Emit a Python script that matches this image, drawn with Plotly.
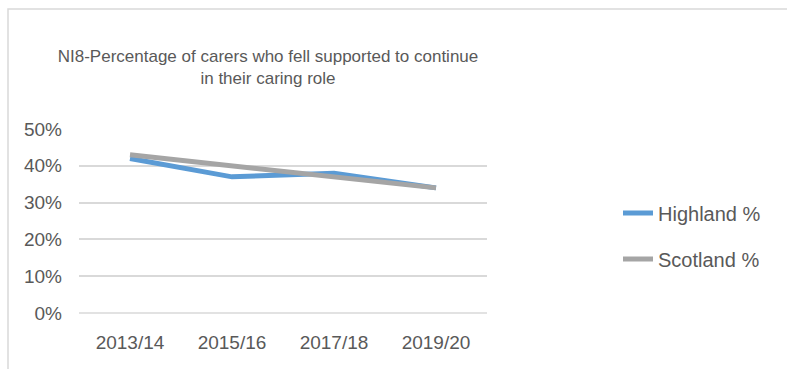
import plotly.graph_objects as go

categories = ["2013/14", "2015/16", "2017/18", "2019/20"]
highland = [0.42, 0.37, 0.38, 0.34]
scotland = [0.43, 0.40, 0.37, 0.34]
title_text = "NI8-Percentage of carers who fell supported to continue<br>in their caring role"

FONT = "Liberation Sans, Arial, sans-serif"
TXT = "#595959"

fig = go.Figure()
fig.add_trace(go.Scatter(x=categories, y=highland, mode="lines", name="Highland %",
                         line=dict(color="#5B9BD5", width=5), legend="legend",
                         showlegend=True))
fig.add_trace(go.Scatter(x=categories, y=scotland, mode="lines", name="Scotland %",
                         line=dict(color="#A5A5A5", width=5), legend="legend2",
                         showlegend=True))

W, H = 787, 369
L, R, T, B = 79, 300, 129, 56
pw, ph = W - L - R, H - T - B

def px_x(p):
    return (p - L) / pw

def px_y(p):
    return (H - B - p) / ph

fig.update_layout(
    width=W, height=H,
    margin=dict(l=L, r=R, t=T, b=B),
    paper_bgcolor="white", plot_bgcolor="white",
    showlegend=True,
    font=dict(family=FONT, size=20, color=TXT),
    title=dict(text=title_text, x=268 / W, xanchor="center", xref="container",
               y=1 - 62 / H, yanchor="middle", yref="container",
               font=dict(family=FONT, size=17, color=TXT)),
    xaxis=dict(type="category", range=[-0.5, 3.5], showgrid=False, zeroline=False,
               showline=False, ticks="", tickfont=dict(size=19, color=TXT),
               ticklabelstandoff=16),
    yaxis=dict(range=[0, 0.5], dtick=0.1, tickformat=".0%", showgrid=True,
               gridcolor="#D9D9D9", gridwidth=1.5, zeroline=False, showline=False,
               ticks="", tickfont=dict(size=19, color=TXT), ticklabelstandoff=16),
    legend=dict(x=px_x(618), y=px_y(213), xanchor="left", yanchor="middle",
                bgcolor="rgba(0,0,0,0)", font=dict(size=20, color=TXT)),
    legend2=dict(x=px_x(618), y=px_y(259), xanchor="left", yanchor="middle",
                 bgcolor="rgba(0,0,0,0)", font=dict(size=20, color=TXT)),
    shapes=[dict(type="rect", xref="paper", yref="paper",
                 x0=px_x(8), x1=px_x(800), y0=px_y(380), y1=px_y(9),
                 line=dict(color="#D9D9D9", width=1.5), fillcolor="rgba(0,0,0,0)",
                 layer="below")],
)
fig.add_shape(type="line", xref="paper", yref="paper", x0=0, x1=1, y0=0, y1=0,
              line=dict(color="#D9D9D9", width=1.5), layer="below")

fig.write_html("out.html")
